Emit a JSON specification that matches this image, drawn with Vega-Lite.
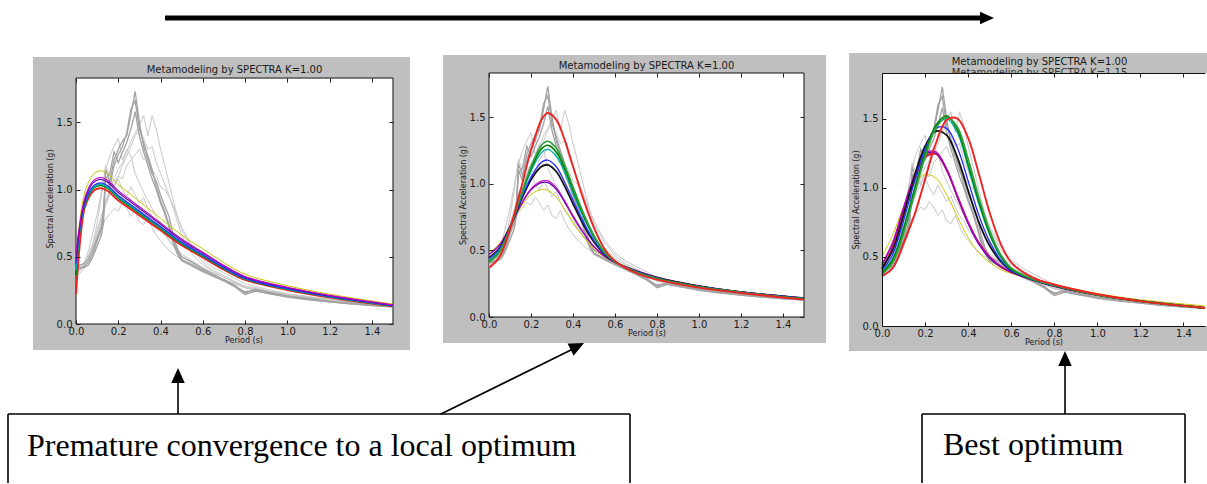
{
"$schema": "https://vega.github.io/schema/vega-lite/v6.json",
"padding": 0,
"background": "white",
"spacing": 78,
"bounds": "flush",
"config": {
  "view": {"stroke": null},
  "axis": {"labelFont": "DejaVu Sans", "labelFontSize": 10, "labelColor": "#1a1a1a", "titleFont": "DejaVu Sans", "titleFontSize": 8, "titleFontWeight": "normal", "titleColor": "#1a1a1a", "tickColor": "#222", "tickWidth": 1, "grid": false, "domainColor": "#111", "labelFlush": false, "labelOverlap": false}
},
"datasets": {
  "canvas": [{"x": 0, "y": 0, "x2": 1207, "y2": 484}],
  "shaft": [{"x": 165, "y": 18, "x2": 982, "y2": 18}],
  "segs": [
    {"x": 8, "y": 414, "x2": 8, "y2": 483}, {"x": 8, "y": 414, "x2": 630, "y2": 414}, {"x": 630, "y": 414, "x2": 630, "y2": 483},
    {"x": 922, "y": 414, "x2": 922, "y2": 483}, {"x": 922, "y": 414, "x2": 1185, "y2": 414}, {"x": 1185, "y": 414, "x2": 1185, "y2": 483},
    {"x": 178, "y": 414, "x2": 178, "y2": 382}, {"x": 1065, "y": 414, "x2": 1065, "y2": 365}, {"x": 441, "y": 414, "x2": 577, "y2": 347}
  ],
  "headsUp": [{"x": 178, "y": 375.5}, {"x": 1065, "y": 358.5}],
  "headDiag": [{"x": 577.3, "y": 346.3}],
  "headRight": [{"x": 987, "y": 18}],
  "labels": [{"x": 27, "y": 456, "label": "Premature convergence to a local optimum"}, {"x": 943, "y": 455, "label": "Best optimum"}],
  "gray": [
{"g":1,"k":"d","t":0,"v":0.42},{"g":1,"k":"d","t":0.02,"v":0.41},{"g":1,"k":"d","t":0.04,"v":0.43},{"g":1,"k":"d","t":0.06,"v":0.46},{"g":1,"k":"d","t":0.08,"v":0.52},{"g":1,"k":"d","t":0.1,"v":0.62},{"g":1,"k":"d","t":0.12,"v":0.70},{"g":1,"k":"d","t":0.13,"v":0.80},{"g":1,"k":"d","t":0.14,"v":1.15},{"g":1,"k":"d","t":0.16,"v":1.06},{"g":1,"k":"d","t":0.18,"v":1.22},{"g":1,"k":"d","t":0.2,"v":1.30},{"g":1,"k":"d","t":0.22,"v":1.36},{"g":1,"k":"d","t":0.24,"v":1.40},{"g":1,"k":"d","t":0.26,"v":1.56},{"g":1,"k":"d","t":0.28,"v":1.73},{"g":1,"k":"d","t":0.3,"v":1.50},{"g":1,"k":"d","t":0.32,"v":1.32},{"g":1,"k":"d","t":0.34,"v":1.22},{"g":1,"k":"d","t":0.36,"v":1.12},{"g":1,"k":"d","t":0.38,"v":1.06},{"g":1,"k":"d","t":0.4,"v":0.96},{"g":1,"k":"d","t":0.42,"v":0.88},{"g":1,"k":"d","t":0.44,"v":0.80},{"g":1,"k":"d","t":0.46,"v":0.66},{"g":1,"k":"d","t":0.48,"v":0.56},{"g":1,"k":"d","t":0.5,"v":0.50},{"g":1,"k":"d","t":0.55,"v":0.46},{"g":1,"k":"d","t":0.6,"v":0.41},{"g":1,"k":"d","t":0.65,"v":0.37},{"g":1,"k":"d","t":0.7,"v":0.33},{"g":1,"k":"d","t":0.75,"v":0.29},{"g":1,"k":"d","t":0.8,"v":0.23},{"g":1,"k":"d","t":0.85,"v":0.26},{"g":1,"k":"d","t":0.9,"v":0.24},{"g":1,"k":"d","t":1.0,"v":0.21},{"g":1,"k":"d","t":1.1,"v":0.19},{"g":1,"k":"d","t":1.2,"v":0.17},{"g":1,"k":"d","t":1.3,"v":0.155},{"g":1,"k":"d","t":1.4,"v":0.14},{"g":1,"k":"d","t":1.5,"v":0.13},
{"g":2,"k":"d","t":0,"v":0.40},{"g":2,"k":"d","t":0.02,"v":0.42},{"g":2,"k":"d","t":0.04,"v":0.42},{"g":2,"k":"d","t":0.06,"v":0.44},{"g":2,"k":"d","t":0.08,"v":0.50},{"g":2,"k":"d","t":0.1,"v":0.58},{"g":2,"k":"d","t":0.12,"v":0.66},{"g":2,"k":"d","t":0.13,"v":0.75},{"g":2,"k":"d","t":0.14,"v":1.10},{"g":2,"k":"d","t":0.16,"v":1.02},{"g":2,"k":"d","t":0.18,"v":1.18},{"g":2,"k":"d","t":0.2,"v":1.26},{"g":2,"k":"d","t":0.22,"v":1.32},{"g":2,"k":"d","t":0.24,"v":1.42},{"g":2,"k":"d","t":0.26,"v":1.60},{"g":2,"k":"d","t":0.28,"v":1.66},{"g":2,"k":"d","t":0.3,"v":1.45},{"g":2,"k":"d","t":0.32,"v":1.35},{"g":2,"k":"d","t":0.34,"v":1.25},{"g":2,"k":"d","t":0.36,"v":1.15},{"g":2,"k":"d","t":0.38,"v":1.02},{"g":2,"k":"d","t":0.4,"v":0.92},{"g":2,"k":"d","t":0.42,"v":0.84},{"g":2,"k":"d","t":0.44,"v":0.74},{"g":2,"k":"d","t":0.46,"v":0.62},{"g":2,"k":"d","t":0.48,"v":0.54},{"g":2,"k":"d","t":0.5,"v":0.48},{"g":2,"k":"d","t":0.55,"v":0.44},{"g":2,"k":"d","t":0.6,"v":0.40},{"g":2,"k":"d","t":0.65,"v":0.36},{"g":2,"k":"d","t":0.7,"v":0.32},{"g":2,"k":"d","t":0.75,"v":0.28},{"g":2,"k":"d","t":0.8,"v":0.24},{"g":2,"k":"d","t":0.85,"v":0.25},{"g":2,"k":"d","t":0.9,"v":0.23},{"g":2,"k":"d","t":1.0,"v":0.205},{"g":2,"k":"d","t":1.1,"v":0.185},{"g":2,"k":"d","t":1.2,"v":0.165},{"g":2,"k":"d","t":1.3,"v":0.15},{"g":2,"k":"d","t":1.4,"v":0.138},{"g":2,"k":"d","t":1.5,"v":0.128},
{"g":3,"k":"d","t":0,"v":0.43},{"g":3,"k":"d","t":0.02,"v":0.44},{"g":3,"k":"d","t":0.04,"v":0.45},{"g":3,"k":"d","t":0.06,"v":0.48},{"g":3,"k":"d","t":0.08,"v":0.55},{"g":3,"k":"d","t":0.1,"v":0.64},{"g":3,"k":"d","t":0.12,"v":0.72},{"g":3,"k":"d","t":0.13,"v":0.85},{"g":3,"k":"d","t":0.14,"v":1.08},{"g":3,"k":"d","t":0.16,"v":1.12},{"g":3,"k":"d","t":0.18,"v":1.28},{"g":3,"k":"d","t":0.2,"v":1.20},{"g":3,"k":"d","t":0.22,"v":1.28},{"g":3,"k":"d","t":0.24,"v":1.35},{"g":3,"k":"d","t":0.26,"v":1.45},{"g":3,"k":"d","t":0.28,"v":1.58},{"g":3,"k":"d","t":0.3,"v":1.40},{"g":3,"k":"d","t":0.32,"v":1.28},{"g":3,"k":"d","t":0.34,"v":1.18},{"g":3,"k":"d","t":0.36,"v":1.08},{"g":3,"k":"d","t":0.38,"v":1.00},{"g":3,"k":"d","t":0.4,"v":0.90},{"g":3,"k":"d","t":0.42,"v":0.82},{"g":3,"k":"d","t":0.44,"v":0.72},{"g":3,"k":"d","t":0.46,"v":0.60},{"g":3,"k":"d","t":0.48,"v":0.52},{"g":3,"k":"d","t":0.5,"v":0.47},{"g":3,"k":"d","t":0.55,"v":0.43},{"g":3,"k":"d","t":0.6,"v":0.39},{"g":3,"k":"d","t":0.65,"v":0.355},{"g":3,"k":"d","t":0.7,"v":0.32},{"g":3,"k":"d","t":0.75,"v":0.28},{"g":3,"k":"d","t":0.8,"v":0.22},{"g":3,"k":"d","t":0.85,"v":0.245},{"g":3,"k":"d","t":0.9,"v":0.23},{"g":3,"k":"d","t":1.0,"v":0.20},{"g":3,"k":"d","t":1.1,"v":0.18},{"g":3,"k":"d","t":1.2,"v":0.165},{"g":3,"k":"d","t":1.3,"v":0.15},{"g":3,"k":"d","t":1.4,"v":0.137},{"g":3,"k":"d","t":1.5,"v":0.127},
{"g":4,"k":"l","t":0,"v":0.38},{"g":4,"k":"l","t":0.02,"v":0.40},{"g":4,"k":"l","t":0.04,"v":0.44},{"g":4,"k":"l","t":0.06,"v":0.50},{"g":4,"k":"l","t":0.08,"v":0.58},{"g":4,"k":"l","t":0.1,"v":0.68},{"g":4,"k":"l","t":0.12,"v":0.80},{"g":4,"k":"l","t":0.14,"v":0.92},{"g":4,"k":"l","t":0.16,"v":1.00},{"g":4,"k":"l","t":0.18,"v":1.08},{"g":4,"k":"l","t":0.2,"v":1.15},{"g":4,"k":"l","t":0.22,"v":1.20},{"g":4,"k":"l","t":0.24,"v":1.28},{"g":4,"k":"l","t":0.26,"v":1.36},{"g":4,"k":"l","t":0.28,"v":1.42},{"g":4,"k":"l","t":0.3,"v":1.48},{"g":4,"k":"l","t":0.32,"v":1.55},{"g":4,"k":"l","t":0.34,"v":1.40},{"g":4,"k":"l","t":0.36,"v":1.55},{"g":4,"k":"l","t":0.38,"v":1.45},{"g":4,"k":"l","t":0.4,"v":1.30},{"g":4,"k":"l","t":0.42,"v":1.18},{"g":4,"k":"l","t":0.44,"v":1.05},{"g":4,"k":"l","t":0.46,"v":0.92},{"g":4,"k":"l","t":0.48,"v":0.80},{"g":4,"k":"l","t":0.5,"v":0.70},{"g":4,"k":"l","t":0.55,"v":0.56},{"g":4,"k":"l","t":0.6,"v":0.46},{"g":4,"k":"l","t":0.65,"v":0.40},{"g":4,"k":"l","t":0.7,"v":0.36},{"g":4,"k":"l","t":0.75,"v":0.32},{"g":4,"k":"l","t":0.8,"v":0.28},{"g":4,"k":"l","t":0.85,"v":0.27},{"g":4,"k":"l","t":0.9,"v":0.25},{"g":4,"k":"l","t":1.0,"v":0.22},{"g":4,"k":"l","t":1.1,"v":0.20},{"g":4,"k":"l","t":1.2,"v":0.18},{"g":4,"k":"l","t":1.3,"v":0.16},{"g":4,"k":"l","t":1.4,"v":0.145},{"g":4,"k":"l","t":1.5,"v":0.135},
{"g":5,"k":"l","t":0,"v":0.40},{"g":5,"k":"l","t":0.02,"v":0.42},{"g":5,"k":"l","t":0.04,"v":0.46},{"g":5,"k":"l","t":0.06,"v":0.55},{"g":5,"k":"l","t":0.08,"v":0.68},{"g":5,"k":"l","t":0.1,"v":0.82},{"g":5,"k":"l","t":0.12,"v":0.98},{"g":5,"k":"l","t":0.14,"v":1.15},{"g":5,"k":"l","t":0.16,"v":1.25},{"g":5,"k":"l","t":0.18,"v":1.32},{"g":5,"k":"l","t":0.2,"v":1.38},{"g":5,"k":"l","t":0.22,"v":1.22},{"g":5,"k":"l","t":0.24,"v":1.30},{"g":5,"k":"l","t":0.26,"v":1.25},{"g":5,"k":"l","t":0.28,"v":1.12},{"g":5,"k":"l","t":0.3,"v":1.05},{"g":5,"k":"l","t":0.32,"v":0.98},{"g":5,"k":"l","t":0.34,"v":0.92},{"g":5,"k":"l","t":0.36,"v":0.86},{"g":5,"k":"l","t":0.38,"v":0.80},{"g":5,"k":"l","t":0.4,"v":0.74},{"g":5,"k":"l","t":0.42,"v":0.68},{"g":5,"k":"l","t":0.44,"v":0.63},{"g":5,"k":"l","t":0.46,"v":0.58},{"g":5,"k":"l","t":0.48,"v":0.54},{"g":5,"k":"l","t":0.5,"v":0.50},{"g":5,"k":"l","t":0.55,"v":0.45},{"g":5,"k":"l","t":0.6,"v":0.40},{"g":5,"k":"l","t":0.65,"v":0.37},{"g":5,"k":"l","t":0.7,"v":0.33},{"g":5,"k":"l","t":0.75,"v":0.30},{"g":5,"k":"l","t":0.8,"v":0.27},{"g":5,"k":"l","t":0.85,"v":0.255},{"g":5,"k":"l","t":0.9,"v":0.24},{"g":5,"k":"l","t":1.0,"v":0.215},{"g":5,"k":"l","t":1.1,"v":0.195},{"g":5,"k":"l","t":1.2,"v":0.175},{"g":5,"k":"l","t":1.3,"v":0.16},{"g":5,"k":"l","t":1.4,"v":0.145},{"g":5,"k":"l","t":1.5,"v":0.135},
{"g":6,"k":"l","t":0,"v":0.36},{"g":6,"k":"l","t":0.02,"v":0.38},{"g":6,"k":"l","t":0.04,"v":0.42},{"g":6,"k":"l","t":0.06,"v":0.48},{"g":6,"k":"l","t":0.08,"v":0.56},{"g":6,"k":"l","t":0.1,"v":0.64},{"g":6,"k":"l","t":0.12,"v":0.72},{"g":6,"k":"l","t":0.14,"v":0.78},{"g":6,"k":"l","t":0.16,"v":0.82},{"g":6,"k":"l","t":0.18,"v":0.86},{"g":6,"k":"l","t":0.2,"v":0.84},{"g":6,"k":"l","t":0.22,"v":0.90},{"g":6,"k":"l","t":0.24,"v":0.86},{"g":6,"k":"l","t":0.26,"v":0.80},{"g":6,"k":"l","t":0.28,"v":0.84},{"g":6,"k":"l","t":0.3,"v":0.76},{"g":6,"k":"l","t":0.32,"v":0.74},{"g":6,"k":"l","t":0.34,"v":0.80},{"g":6,"k":"l","t":0.36,"v":0.72},{"g":6,"k":"l","t":0.38,"v":0.66},{"g":6,"k":"l","t":0.4,"v":0.62},{"g":6,"k":"l","t":0.42,"v":0.58},{"g":6,"k":"l","t":0.44,"v":0.55},{"g":6,"k":"l","t":0.46,"v":0.52},{"g":6,"k":"l","t":0.48,"v":0.50},{"g":6,"k":"l","t":0.5,"v":0.48},{"g":6,"k":"l","t":0.55,"v":0.44},{"g":6,"k":"l","t":0.6,"v":0.40},{"g":6,"k":"l","t":0.65,"v":0.36},{"g":6,"k":"l","t":0.7,"v":0.33},{"g":6,"k":"l","t":0.75,"v":0.30},{"g":6,"k":"l","t":0.8,"v":0.27},{"g":6,"k":"l","t":0.85,"v":0.25},{"g":6,"k":"l","t":0.9,"v":0.235},{"g":6,"k":"l","t":1.0,"v":0.21},{"g":6,"k":"l","t":1.1,"v":0.19},{"g":6,"k":"l","t":1.2,"v":0.17},{"g":6,"k":"l","t":1.3,"v":0.155},{"g":6,"k":"l","t":1.4,"v":0.14},{"g":6,"k":"l","t":1.5,"v":0.13},
{"g":7,"k":"l","t":0,"v":0.42},{"g":7,"k":"l","t":0.02,"v":0.43},{"g":7,"k":"l","t":0.04,"v":0.46},{"g":7,"k":"l","t":0.06,"v":0.52},{"g":7,"k":"l","t":0.08,"v":0.60},{"g":7,"k":"l","t":0.1,"v":0.70},{"g":7,"k":"l","t":0.12,"v":0.80},{"g":7,"k":"l","t":0.14,"v":0.90},{"g":7,"k":"l","t":0.16,"v":0.98},{"g":7,"k":"l","t":0.18,"v":1.05},{"g":7,"k":"l","t":0.2,"v":1.10},{"g":7,"k":"l","t":0.22,"v":1.08},{"g":7,"k":"l","t":0.24,"v":1.18},{"g":7,"k":"l","t":0.26,"v":1.22},{"g":7,"k":"l","t":0.28,"v":1.26},{"g":7,"k":"l","t":0.3,"v":1.30},{"g":7,"k":"l","t":0.32,"v":1.22},{"g":7,"k":"l","t":0.34,"v":1.25},{"g":7,"k":"l","t":0.36,"v":1.15},{"g":7,"k":"l","t":0.38,"v":1.10},{"g":7,"k":"l","t":0.4,"v":1.02},{"g":7,"k":"l","t":0.42,"v":1.00},{"g":7,"k":"l","t":0.44,"v":0.95},{"g":7,"k":"l","t":0.46,"v":0.88},{"g":7,"k":"l","t":0.48,"v":0.80},{"g":7,"k":"l","t":0.5,"v":0.72},{"g":7,"k":"l","t":0.55,"v":0.58},{"g":7,"k":"l","t":0.6,"v":0.48},{"g":7,"k":"l","t":0.65,"v":0.42},{"g":7,"k":"l","t":0.7,"v":0.38},{"g":7,"k":"l","t":0.75,"v":0.34},{"g":7,"k":"l","t":0.8,"v":0.30},{"g":7,"k":"l","t":0.85,"v":0.28},{"g":7,"k":"l","t":0.9,"v":0.26},{"g":7,"k":"l","t":1.0,"v":0.225},{"g":7,"k":"l","t":1.1,"v":0.205},{"g":7,"k":"l","t":1.2,"v":0.185},{"g":7,"k":"l","t":1.3,"v":0.165},{"g":7,"k":"l","t":1.4,"v":0.15},{"g":7,"k":"l","t":1.5,"v":0.14},
{"g":8,"k":"l","t":0,"v":0.39},{"g":8,"k":"l","t":0.02,"v":0.41},{"g":8,"k":"l","t":0.04,"v":0.44},{"g":8,"k":"l","t":0.06,"v":0.50},{"g":8,"k":"l","t":0.08,"v":0.60},{"g":8,"k":"l","t":0.1,"v":0.75},{"g":8,"k":"l","t":0.12,"v":0.95},{"g":8,"k":"l","t":0.14,"v":1.18},{"g":8,"k":"l","t":0.16,"v":1.10},{"g":8,"k":"l","t":0.18,"v":1.02},{"g":8,"k":"l","t":0.2,"v":1.08},{"g":8,"k":"l","t":0.22,"v":1.00},{"g":8,"k":"l","t":0.24,"v":0.95},{"g":8,"k":"l","t":0.26,"v":1.02},{"g":8,"k":"l","t":0.28,"v":0.96},{"g":8,"k":"l","t":0.3,"v":0.90},{"g":8,"k":"l","t":0.32,"v":0.94},{"g":8,"k":"l","t":0.34,"v":0.86},{"g":8,"k":"l","t":0.36,"v":0.80},{"g":8,"k":"l","t":0.38,"v":0.76},{"g":8,"k":"l","t":0.4,"v":0.70},{"g":8,"k":"l","t":0.42,"v":0.66},{"g":8,"k":"l","t":0.44,"v":0.62},{"g":8,"k":"l","t":0.46,"v":0.58},{"g":8,"k":"l","t":0.48,"v":0.55},{"g":8,"k":"l","t":0.5,"v":0.52},{"g":8,"k":"l","t":0.55,"v":0.47},{"g":8,"k":"l","t":0.6,"v":0.42},{"g":8,"k":"l","t":0.65,"v":0.38},{"g":8,"k":"l","t":0.7,"v":0.35},{"g":8,"k":"l","t":0.75,"v":0.31},{"g":8,"k":"l","t":0.8,"v":0.28},{"g":8,"k":"l","t":0.85,"v":0.26},{"g":8,"k":"l","t":0.9,"v":0.245},{"g":8,"k":"l","t":1.0,"v":0.22},{"g":8,"k":"l","t":1.1,"v":0.20},{"g":8,"k":"l","t":1.2,"v":0.18},{"g":8,"k":"l","t":1.3,"v":0.16},{"g":8,"k":"l","t":1.4,"v":0.147},{"g":8,"k":"l","t":1.5,"v":0.137},
{"g":9,"k":"l","t":0,"v":0.41},{"g":9,"k":"l","t":0.02,"v":0.42},{"g":9,"k":"l","t":0.04,"v":0.45},{"g":9,"k":"l","t":0.06,"v":0.50},{"g":9,"k":"l","t":0.08,"v":0.58},{"g":9,"k":"l","t":0.1,"v":0.66},{"g":9,"k":"l","t":0.12,"v":0.76},{"g":9,"k":"l","t":0.14,"v":0.88},{"g":9,"k":"l","t":0.16,"v":0.96},{"g":9,"k":"l","t":0.18,"v":1.02},{"g":9,"k":"l","t":0.2,"v":1.10},{"g":9,"k":"l","t":0.22,"v":1.18},{"g":9,"k":"l","t":0.24,"v":1.25},{"g":9,"k":"l","t":0.26,"v":1.32},{"g":9,"k":"l","t":0.28,"v":1.40},{"g":9,"k":"l","t":0.3,"v":1.45},{"g":9,"k":"l","t":0.32,"v":1.38},{"g":9,"k":"l","t":0.34,"v":1.30},{"g":9,"k":"l","t":0.36,"v":1.32},{"g":9,"k":"l","t":0.38,"v":1.20},{"g":9,"k":"l","t":0.4,"v":1.12},{"g":9,"k":"l","t":0.42,"v":1.04},{"g":9,"k":"l","t":0.44,"v":0.96},{"g":9,"k":"l","t":0.46,"v":0.86},{"g":9,"k":"l","t":0.48,"v":0.76},{"g":9,"k":"l","t":0.5,"v":0.66},{"g":9,"k":"l","t":0.55,"v":0.52},{"g":9,"k":"l","t":0.6,"v":0.44},{"g":9,"k":"l","t":0.65,"v":0.39},{"g":9,"k":"l","t":0.7,"v":0.35},{"g":9,"k":"l","t":0.75,"v":0.31},{"g":9,"k":"l","t":0.8,"v":0.27},{"g":9,"k":"l","t":0.85,"v":0.26},{"g":9,"k":"l","t":0.9,"v":0.245},{"g":9,"k":"l","t":1.0,"v":0.22},{"g":9,"k":"l","t":1.1,"v":0.20},{"g":9,"k":"l","t":1.2,"v":0.18},{"g":9,"k":"l","t":1.3,"v":0.162},{"g":9,"k":"l","t":1.4,"v":0.148},{"g":9,"k":"l","t":1.5,"v":0.138}
  ],
  "c1": [
{"s":"y","t":0,"v":0.50},{"s":"y","t":0.02,"v":0.798},{"s":"y","t":0.04,"v":0.969},{"s":"y","t":0.06,"v":1.060},{"s":"y","t":0.08,"v":1.112},{"s":"y","t":0.1,"v":1.134},{"s":"y","t":0.12,"v":1.14},{"s":"y","t":0.15,"v":1.117},{"s":"y","t":0.2,"v":1.037},{"s":"y","t":0.25,"v":0.975},{"s":"y","t":0.3,"v":0.912},{"s":"y","t":0.4,"v":0.787},{"s":"y","t":0.5,"v":0.661},{"s":"y","t":0.6,"v":0.559},{"s":"y","t":0.7,"v":0.456},{"s":"y","t":0.8,"v":0.371},{"s":"y","t":1.0,"v":0.285},{"s":"y","t":1.2,"v":0.222},{"s":"y","t":1.5,"v":0.148},
{"s":"r","t":0,"v":0.22},{"s":"r","t":0.02,"v":0.626},{"s":"r","t":0.04,"v":0.859},{"s":"r","t":0.06,"v":0.939},{"s":"r","t":0.08,"v":0.985},{"s":"r","t":0.1,"v":1.005},{"s":"r","t":0.12,"v":1.01},{"s":"r","t":0.15,"v":0.99},{"s":"r","t":0.2,"v":0.919},{"s":"r","t":0.25,"v":0.864},{"s":"r","t":0.3,"v":0.808},{"s":"r","t":0.4,"v":0.697},{"s":"r","t":0.5,"v":0.586},{"s":"r","t":0.6,"v":0.495},{"s":"r","t":0.7,"v":0.404},{"s":"r","t":0.8,"v":0.328},{"s":"r","t":1.0,"v":0.253},{"s":"r","t":1.2,"v":0.197},{"s":"r","t":1.5,"v":0.131},
{"s":"g","t":0,"v":0.36},{"s":"g","t":0.02,"v":0.721},{"s":"g","t":0.04,"v":0.876},{"s":"g","t":0.06,"v":0.958},{"s":"g","t":0.08,"v":1.004},{"s":"g","t":0.1,"v":1.025},{"s":"g","t":0.12,"v":1.03},{"s":"g","t":0.15,"v":1.009},{"s":"g","t":0.2,"v":0.937},{"s":"g","t":0.25,"v":0.881},{"s":"g","t":0.3,"v":0.824},{"s":"g","t":0.4,"v":0.711},{"s":"g","t":0.5,"v":0.597},{"s":"g","t":0.6,"v":0.505},{"s":"g","t":0.7,"v":0.412},{"s":"g","t":0.8,"v":0.335},{"s":"g","t":1.0,"v":0.258},{"s":"g","t":1.2,"v":0.201},{"s":"g","t":1.5,"v":0.134},
{"s":"c","t":0,"v":0.40},{"s":"c","t":0.02,"v":0.728},{"s":"c","t":0.04,"v":0.884},{"s":"c","t":0.06,"v":0.967},{"s":"c","t":0.08,"v":1.014},{"s":"c","t":0.1,"v":1.035},{"s":"c","t":0.12,"v":1.04},{"s":"c","t":0.15,"v":1.019},{"s":"c","t":0.2,"v":0.946},{"s":"c","t":0.25,"v":0.889},{"s":"c","t":0.3,"v":0.832},{"s":"c","t":0.4,"v":0.718},{"s":"c","t":0.5,"v":0.603},{"s":"c","t":0.6,"v":0.51},{"s":"c","t":0.7,"v":0.416},{"s":"c","t":0.8,"v":0.338},{"s":"c","t":1.0,"v":0.26},{"s":"c","t":1.2,"v":0.203},{"s":"c","t":1.5,"v":0.135},
{"s":"b","t":0,"v":0.45},{"s":"b","t":0.02,"v":0.735},{"s":"b","t":0.04,"v":0.893},{"s":"b","t":0.06,"v":0.977},{"s":"b","t":0.08,"v":1.024},{"s":"b","t":0.1,"v":1.045},{"s":"b","t":0.12,"v":1.05},{"s":"b","t":0.15,"v":1.029},{"s":"b","t":0.2,"v":0.956},{"s":"b","t":0.25,"v":0.898},{"s":"b","t":0.3,"v":0.84},{"s":"b","t":0.4,"v":0.725},{"s":"b","t":0.5,"v":0.609},{"s":"b","t":0.6,"v":0.515},{"s":"b","t":0.7,"v":0.42},{"s":"b","t":0.8,"v":0.341},{"s":"b","t":1.0,"v":0.263},{"s":"b","t":1.2,"v":0.205},{"s":"b","t":1.5,"v":0.137},
{"s":"p","t":0,"v":0.48},{"s":"p","t":0.02,"v":0.753},{"s":"p","t":0.04,"v":0.914},{"s":"p","t":0.06,"v":1.0},{"s":"p","t":0.08,"v":1.048},{"s":"p","t":0.1,"v":1.07},{"s":"p","t":0.12,"v":1.075},{"s":"p","t":0.15,"v":1.054},{"s":"p","t":0.2,"v":0.978},{"s":"p","t":0.25,"v":0.919},{"s":"p","t":0.3,"v":0.86},{"s":"p","t":0.4,"v":0.742},{"s":"p","t":0.5,"v":0.624},{"s":"p","t":0.6,"v":0.527},{"s":"p","t":0.7,"v":0.43},{"s":"p","t":0.8,"v":0.349},{"s":"p","t":1.0,"v":0.269},{"s":"p","t":1.2,"v":0.21},{"s":"p","t":1.5,"v":0.14},
{"s":"m","t":0,"v":0.53},{"s":"m","t":0.02,"v":0.763},{"s":"m","t":0.04,"v":0.927},{"s":"m","t":0.06,"v":1.014},{"s":"m","t":0.08,"v":1.063},{"s":"m","t":0.1,"v":1.085},{"s":"m","t":0.12,"v":1.09},{"s":"m","t":0.15,"v":1.068},{"s":"m","t":0.2,"v":0.992},{"s":"m","t":0.25,"v":0.932},{"s":"m","t":0.3,"v":0.872},{"s":"m","t":0.4,"v":0.752},{"s":"m","t":0.5,"v":0.632},{"s":"m","t":0.6,"v":0.534},{"s":"m","t":0.7,"v":0.436},{"s":"m","t":0.8,"v":0.354},{"s":"m","t":1.0,"v":0.273},{"s":"m","t":1.2,"v":0.213},{"s":"m","t":1.5,"v":0.142}
  ],
  "c2": [
{"s":"y","t":0,"v":0.48},{"s":"y","t":0.05,"v":0.55},{"s":"y","t":0.1,"v":0.68},{"s":"y","t":0.15,"v":0.82},{"s":"y","t":0.2,"v":0.92},{"s":"y","t":0.25,"v":0.955},{"s":"y","t":0.28,"v":0.95},{"s":"y","t":0.32,"v":0.90},{"s":"y","t":0.36,"v":0.81},{"s":"y","t":0.4,"v":0.71},{"s":"y","t":0.45,"v":0.60},{"s":"y","t":0.5,"v":0.51},{"s":"y","t":0.55,"v":0.45},{"s":"y","t":0.6,"v":0.41},{"s":"y","t":0.7,"v":0.35},{"s":"y","t":0.8,"v":0.30},{"s":"y","t":1.0,"v":0.235},{"s":"y","t":1.2,"v":0.19},{"s":"y","t":1.5,"v":0.145},
{"s":"p","t":0,"v":0.469},{"s":"p","t":0.05,"v":0.54},{"s":"p","t":0.1,"v":0.678},{"s":"p","t":0.15,"v":0.833},{"s":"p","t":0.2,"v":0.953},{"s":"p","t":0.25,"v":1.008},{"s":"p","t":0.28,"v":1.008},{"s":"p","t":0.32,"v":0.958},{"s":"p","t":0.36,"v":0.862},{"s":"p","t":0.4,"v":0.752},{"s":"p","t":0.45,"v":0.628},{"s":"p","t":0.5,"v":0.526},{"s":"p","t":0.55,"v":0.456},{"s":"p","t":0.6,"v":0.411},{"s":"p","t":0.7,"v":0.348},{"s":"p","t":0.8,"v":0.298},{"s":"p","t":1.0,"v":0.234},{"s":"p","t":1.2,"v":0.189},{"s":"p","t":1.5,"v":0.144},
{"s":"m","t":0,"v":0.467},{"s":"m","t":0.05,"v":0.538},{"s":"m","t":0.1,"v":0.678},{"s":"m","t":0.15,"v":0.836},{"s":"m","t":0.2,"v":0.96},{"s":"m","t":0.25,"v":1.019},{"s":"m","t":0.28,"v":1.021},{"s":"m","t":0.32,"v":0.971},{"s":"m","t":0.36,"v":0.873},{"s":"m","t":0.4,"v":0.761},{"s":"m","t":0.45,"v":0.634},{"s":"m","t":0.5,"v":0.53},{"s":"m","t":0.55,"v":0.457},{"s":"m","t":0.6,"v":0.411},{"s":"m","t":0.7,"v":0.348},{"s":"m","t":0.8,"v":0.298},{"s":"m","t":1.0,"v":0.233},{"s":"m","t":1.2,"v":0.189},{"s":"m","t":1.5,"v":0.143},
{"s":"k","t":0,"v":0.444},{"s":"k","t":0.05,"v":0.517},{"s":"k","t":0.1,"v":0.673},{"s":"k","t":0.15,"v":0.863},{"s":"k","t":0.2,"v":1.029},{"s":"k","t":0.25,"v":1.128},{"s":"k","t":0.28,"v":1.141},{"s":"k","t":0.32,"v":1.091},{"s":"k","t":0.36,"v":0.982},{"s":"k","t":0.4,"v":0.849},{"s":"k","t":0.45,"v":0.692},{"s":"k","t":0.5,"v":0.563},{"s":"k","t":0.55,"v":0.47},{"s":"k","t":0.6,"v":0.413},{"s":"k","t":0.7,"v":0.343},{"s":"k","t":0.8,"v":0.293},{"s":"k","t":1.0,"v":0.23},{"s":"k","t":1.2,"v":0.187},{"s":"k","t":1.5,"v":0.14},
{"s":"b","t":0,"v":0.437},{"s":"b","t":0.05,"v":0.511},{"s":"b","t":0.1,"v":0.672},{"s":"b","t":0.15,"v":0.871},{"s":"b","t":0.2,"v":1.049},{"s":"b","t":0.25,"v":1.16},{"s":"b","t":0.28,"v":1.177},{"s":"b","t":0.32,"v":1.127},{"s":"b","t":0.36,"v":1.013},{"s":"b","t":0.4,"v":0.874},{"s":"b","t":0.45,"v":0.71},{"s":"b","t":0.5,"v":0.573},{"s":"b","t":0.55,"v":0.474},{"s":"b","t":0.6,"v":0.414},{"s":"b","t":0.7,"v":0.342},{"s":"b","t":0.8,"v":0.292},{"s":"b","t":1.0,"v":0.229},{"s":"b","t":1.2,"v":0.186},{"s":"b","t":1.5,"v":0.139},
{"s":"c","t":0,"v":0.422},{"s":"c","t":0.05,"v":0.497},{"s":"c","t":0.1,"v":0.669},{"s":"c","t":0.15,"v":0.889},{"s":"c","t":0.2,"v":1.095},{"s":"c","t":0.25,"v":1.233},{"s":"c","t":0.28,"v":1.257},{"s":"c","t":0.32,"v":1.207},{"s":"c","t":0.36,"v":1.086},{"s":"c","t":0.4,"v":0.933},{"s":"c","t":0.45,"v":0.748},{"s":"c","t":0.5,"v":0.595},{"s":"c","t":0.55,"v":0.482},{"s":"c","t":0.6,"v":0.415},{"s":"c","t":0.7,"v":0.339},{"s":"c","t":0.8,"v":0.289},{"s":"c","t":1.0,"v":0.227},{"s":"c","t":1.2,"v":0.185},{"s":"c","t":1.5,"v":0.137},
{"s":"g","t":0,"v":0.416},{"s":"g","t":0.05,"v":0.492},{"s":"g","t":0.1,"v":0.668},{"s":"g","t":0.15,"v":0.896},{"s":"g","t":0.2,"v":1.112},{"s":"g","t":0.25,"v":1.261},{"s":"g","t":0.28,"v":1.288},{"s":"g","t":0.32,"v":1.238},{"s":"g","t":0.36,"v":1.113},{"s":"g","t":0.4,"v":0.955},{"s":"g","t":0.45,"v":0.763},{"s":"g","t":0.5,"v":0.603},{"s":"g","t":0.55,"v":0.485},{"s":"g","t":0.6,"v":0.416},{"s":"g","t":0.7,"v":0.338},{"s":"g","t":0.8,"v":0.288},{"s":"g","t":1.0,"v":0.226},{"s":"g","t":1.2,"v":0.184},{"s":"g","t":1.5,"v":0.136},
{"s":"g2","t":0,"v":0.41},{"s":"g2","t":0.05,"v":0.487},{"s":"g2","t":0.1,"v":0.667},{"s":"g2","t":0.15,"v":0.903},{"s":"g2","t":0.2,"v":1.13},{"s":"g2","t":0.25,"v":1.288},{"s":"g2","t":0.28,"v":1.318},{"s":"g2","t":0.32,"v":1.268},{"s":"g2","t":0.36,"v":1.14},{"s":"g2","t":0.4,"v":0.977},{"s":"g2","t":0.45,"v":0.778},{"s":"g2","t":0.5,"v":0.612},{"s":"g2","t":0.55,"v":0.488},{"s":"g2","t":0.6,"v":0.416},{"s":"g2","t":0.7,"v":0.337},{"s":"g2","t":0.8,"v":0.287},{"s":"g2","t":1.0,"v":0.225},{"s":"g2","t":1.2,"v":0.184},{"s":"g2","t":1.5,"v":0.135},
{"s":"r","t":0,"v":0.37},{"s":"r","t":0.05,"v":0.45},{"s":"r","t":0.1,"v":0.66},{"s":"r","t":0.15,"v":0.95},{"s":"r","t":0.2,"v":1.25},{"s":"r","t":0.25,"v":1.48},{"s":"r","t":0.28,"v":1.53},{"s":"r","t":0.32,"v":1.48},{"s":"r","t":0.36,"v":1.33},{"s":"r","t":0.4,"v":1.13},{"s":"r","t":0.45,"v":0.88},{"s":"r","t":0.5,"v":0.67},{"s":"r","t":0.55,"v":0.51},{"s":"r","t":0.6,"v":0.42},{"s":"r","t":0.7,"v":0.33},{"s":"r","t":0.8,"v":0.28},{"s":"r","t":1.0,"v":0.22},{"s":"r","t":1.2,"v":0.18},{"s":"r","t":1.5,"v":0.13}
  ],
  "c3": [
{"s":"y","t":0,"v":0.50},{"s":"y","t":0.05,"v":0.66},{"s":"y","t":0.1,"v":0.86},{"s":"y","t":0.15,"v":1.02},{"s":"y","t":0.2,"v":1.095},{"s":"y","t":0.25,"v":1.07},{"s":"y","t":0.3,"v":0.95},{"s":"y","t":0.35,"v":0.79},{"s":"y","t":0.4,"v":0.64},{"s":"y","t":0.45,"v":0.53},{"s":"y","t":0.5,"v":0.46},{"s":"y","t":0.55,"v":0.41},{"s":"y","t":0.6,"v":0.38},{"s":"y","t":0.7,"v":0.34},{"s":"y","t":0.8,"v":0.30},{"s":"y","t":1.0,"v":0.235},{"s":"y","t":1.2,"v":0.19},{"s":"y","t":1.5,"v":0.145},
{"s":"r2","t":0,"v":0.41},{"s":"r2","t":0.05,"v":0.57},{"s":"r2","t":0.1,"v":0.82},{"s":"r2","t":0.15,"v":1.05},{"s":"r2","t":0.2,"v":1.22},{"s":"r2","t":0.25,"v":1.245},{"s":"r2","t":0.3,"v":1.13},{"s":"r2","t":0.35,"v":0.94},{"s":"r2","t":0.4,"v":0.75},{"s":"r2","t":0.45,"v":0.60},{"s":"r2","t":0.5,"v":0.50},{"s":"r2","t":0.55,"v":0.43},{"s":"r2","t":0.6,"v":0.39},{"s":"r2","t":0.7,"v":0.335},{"s":"r2","t":0.8,"v":0.29},{"s":"r2","t":1.0,"v":0.226},{"s":"r2","t":1.2,"v":0.181},{"s":"r2","t":1.5,"v":0.131},
{"s":"p","t":0,"v":0.44},{"s":"p","t":0.05,"v":0.60},{"s":"p","t":0.1,"v":0.85},{"s":"p","t":0.15,"v":1.08},{"s":"p","t":0.2,"v":1.24},{"s":"p","t":0.25,"v":1.25},{"s":"p","t":0.3,"v":1.13},{"s":"p","t":0.35,"v":0.93},{"s":"p","t":0.4,"v":0.74},{"s":"p","t":0.45,"v":0.59},{"s":"p","t":0.5,"v":0.49},{"s":"p","t":0.55,"v":0.43},{"s":"p","t":0.6,"v":0.39},{"s":"p","t":0.7,"v":0.335},{"s":"p","t":0.8,"v":0.29},{"s":"p","t":1.0,"v":0.225},{"s":"p","t":1.2,"v":0.18},{"s":"p","t":1.5,"v":0.13},
{"s":"m","t":0,"v":0.45},{"s":"m","t":0.05,"v":0.61},{"s":"m","t":0.1,"v":0.86},{"s":"m","t":0.15,"v":1.09},{"s":"m","t":0.2,"v":1.25},{"s":"m","t":0.25,"v":1.26},{"s":"m","t":0.3,"v":1.14},{"s":"m","t":0.35,"v":0.94},{"s":"m","t":0.4,"v":0.75},{"s":"m","t":0.45,"v":0.60},{"s":"m","t":0.5,"v":0.50},{"s":"m","t":0.55,"v":0.435},{"s":"m","t":0.6,"v":0.39},{"s":"m","t":0.7,"v":0.335},{"s":"m","t":0.8,"v":0.29},{"s":"m","t":1.0,"v":0.225},{"s":"m","t":1.2,"v":0.18},{"s":"m","t":1.5,"v":0.13},
{"s":"k","t":0,"v":0.42},{"s":"k","t":0.05,"v":0.55},{"s":"k","t":0.1,"v":0.80},{"s":"k","t":0.15,"v":1.08},{"s":"k","t":0.2,"v":1.30},{"s":"k","t":0.25,"v":1.41},{"s":"k","t":0.3,"v":1.38},{"s":"k","t":0.35,"v":1.22},{"s":"k","t":0.4,"v":0.98},{"s":"k","t":0.45,"v":0.75},{"s":"k","t":0.5,"v":0.58},{"s":"k","t":0.55,"v":0.47},{"s":"k","t":0.6,"v":0.40},{"s":"k","t":0.7,"v":0.335},{"s":"k","t":0.8,"v":0.29},{"s":"k","t":1.0,"v":0.225},{"s":"k","t":1.2,"v":0.18},{"s":"k","t":1.5,"v":0.13},
{"s":"b","t":0,"v":0.40},{"s":"b","t":0.05,"v":0.52},{"s":"b","t":0.1,"v":0.76},{"s":"b","t":0.15,"v":1.04},{"s":"b","t":0.2,"v":1.28},{"s":"b","t":0.25,"v":1.43},{"s":"b","t":0.3,"v":1.43},{"s":"b","t":0.35,"v":1.29},{"s":"b","t":0.4,"v":1.05},{"s":"b","t":0.45,"v":0.80},{"s":"b","t":0.5,"v":0.61},{"s":"b","t":0.55,"v":0.48},{"s":"b","t":0.6,"v":0.40},{"s":"b","t":0.7,"v":0.335},{"s":"b","t":0.8,"v":0.29},{"s":"b","t":1.0,"v":0.225},{"s":"b","t":1.2,"v":0.18},{"s":"b","t":1.5,"v":0.13},
{"s":"c","t":0,"v":0.39},{"s":"c","t":0.05,"v":0.49},{"s":"c","t":0.1,"v":0.71},{"s":"c","t":0.15,"v":0.99},{"s":"c","t":0.2,"v":1.25},{"s":"c","t":0.25,"v":1.44},{"s":"c","t":0.3,"v":1.50},{"s":"c","t":0.35,"v":1.40},{"s":"c","t":0.4,"v":1.15},{"s":"c","t":0.45,"v":0.88},{"s":"c","t":0.5,"v":0.66},{"s":"c","t":0.55,"v":0.50},{"s":"c","t":0.6,"v":0.41},{"s":"c","t":0.7,"v":0.337},{"s":"c","t":0.8,"v":0.292},{"s":"c","t":1.0,"v":0.226},{"s":"c","t":1.2,"v":0.181},{"s":"c","t":1.5,"v":0.131},
{"s":"g","t":0,"v":0.38},{"s":"g","t":0.05,"v":0.48},{"s":"g","t":0.1,"v":0.70},{"s":"g","t":0.15,"v":0.98},{"s":"g","t":0.2,"v":1.25},{"s":"g","t":0.25,"v":1.45},{"s":"g","t":0.3,"v":1.52},{"s":"g","t":0.35,"v":1.42},{"s":"g","t":0.4,"v":1.17},{"s":"g","t":0.45,"v":0.90},{"s":"g","t":0.5,"v":0.67},{"s":"g","t":0.55,"v":0.51},{"s":"g","t":0.6,"v":0.41},{"s":"g","t":0.7,"v":0.34},{"s":"g","t":0.8,"v":0.295},{"s":"g","t":1.0,"v":0.225},{"s":"g","t":1.2,"v":0.18},{"s":"g","t":1.5,"v":0.13},
{"s":"g2","t":0,"v":0.37},{"s":"g2","t":0.05,"v":0.46},{"s":"g2","t":0.1,"v":0.67},{"s":"g2","t":0.15,"v":0.95},{"s":"g2","t":0.2,"v":1.22},{"s":"g2","t":0.25,"v":1.43},{"s":"g2","t":0.3,"v":1.51},{"s":"g2","t":0.35,"v":1.44},{"s":"g2","t":0.4,"v":1.21},{"s":"g2","t":0.45,"v":0.93},{"s":"g2","t":0.5,"v":0.69},{"s":"g2","t":0.55,"v":0.52},{"s":"g2","t":0.6,"v":0.42},{"s":"g2","t":0.7,"v":0.34},{"s":"g2","t":0.8,"v":0.295},{"s":"g2","t":1.0,"v":0.225},{"s":"g2","t":1.2,"v":0.18},{"s":"g2","t":1.5,"v":0.13},
{"s":"r","t":0,"v":0.36},{"s":"r","t":0.05,"v":0.42},{"s":"r","t":0.1,"v":0.60},{"s":"r","t":0.15,"v":0.80},{"s":"r","t":0.2,"v":1.06},{"s":"r","t":0.25,"v":1.32},{"s":"r","t":0.3,"v":1.49},{"s":"r","t":0.35,"v":1.50},{"s":"r","t":0.4,"v":1.36},{"s":"r","t":0.45,"v":1.10},{"s":"r","t":0.5,"v":0.82},{"s":"r","t":0.55,"v":0.60},{"s":"r","t":0.6,"v":0.46},{"s":"r","t":0.7,"v":0.35},{"s":"r","t":0.8,"v":0.30},{"s":"r","t":1.0,"v":0.23},{"s":"r","t":1.2,"v":0.18},{"s":"r","t":1.5,"v":0.13}
  ]
},
"hconcat": [
  {
    "width": 335, "height": 251,
    "title": {"text": "Metamodeling by SPECTRA K=1.00", "frame": "group", "anchor": "middle", "baseline": "middle", "offset": -80.4, "dx": -9, "fontSize": 10, "font": "DejaVu Sans", "fontWeight": "normal", "color": "#1a1a1a"},
    "layer": [
      {
        "layer": [
          {"data": {"name": "canvas"}, "mark": {"type": "rect", "fill": "white", "strokeWidth": 0},
           "encoding": {"x": {"field": "x", "type": "quantitative", "scale": {"domain": [76, 411], "nice": false, "zero": false}, "axis": null}, "x2": {"field": "x2"},
                        "y": {"field": "y", "type": "quantitative", "scale": {"domain": [73, 324], "nice": false, "zero": false, "reverse": true}, "axis": null}, "y2": {"field": "y2"}}},
          {"data": {"name": "shaft"}, "mark": {"type": "rule", "color": "black", "strokeWidth": 5},
           "encoding": {"x": {"field": "x", "type": "quantitative", "axis": null}, "x2": {"field": "x2"}, "y": {"field": "y", "type": "quantitative", "axis": null}, "y2": {"field": "y2"}}},
          {"data": {"name": "segs"}, "mark": {"type": "rule", "color": "black", "strokeWidth": 1.6},
           "encoding": {"x": {"field": "x", "type": "quantitative", "axis": null}, "x2": {"field": "x2"}, "y": {"field": "y", "type": "quantitative", "axis": null}, "y2": {"field": "y2"}}},
          {"data": {"name": "headsUp"}, "mark": {"type": "point", "shape": "M 0 -1 L 0.9 1 L -0.9 1 Z", "size": 225, "filled": true, "color": "black", "opacity": 1, "strokeWidth": 0},
           "encoding": {"x": {"field": "x", "type": "quantitative", "axis": null}, "y": {"field": "y", "type": "quantitative", "axis": null}}},
          {"data": {"name": "headDiag"}, "mark": {"type": "point", "shape": "M 0 -1 L 0.9 1 L -0.9 1 Z", "size": 225, "angle": 63.6, "filled": true, "color": "black", "opacity": 1, "strokeWidth": 0},
           "encoding": {"x": {"field": "x", "type": "quantitative", "axis": null}, "y": {"field": "y", "type": "quantitative", "axis": null}}},
          {"data": {"name": "headRight"}, "mark": {"type": "point", "shape": "M 0 -1 L 0.9 1 L -0.9 1 Z", "size": 196, "angle": 90, "filled": true, "color": "black", "opacity": 1, "strokeWidth": 0},
           "encoding": {"x": {"field": "x", "type": "quantitative", "axis": null}, "y": {"field": "y", "type": "quantitative", "axis": null}}},
          {"data": {"name": "labels"}, "mark": {"type": "text", "font": "Liberation Serif", "fontSize": 32, "align": "left", "baseline": "alphabetic", "color": "black"},
           "encoding": {"x": {"field": "x", "type": "quantitative", "axis": null}, "y": {"field": "y", "type": "quantitative", "axis": null}, "text": {"field": "label"}}}
        ]
      },
      {
        "layer": [
          {"data": {"values": [{}]}, "mark": {"type": "rect", "fill": "#bfbfbf", "strokeWidth": 0},
           "encoding": {"x": {"datum": -0.2035, "type": "quantitative", "scale": {"domain": [0, 1.5852], "nice": false, "zero": false}, "axis": null}, "x2": {"datum": 1.5805},
                        "y": {"datum": -0.1935, "type": "quantitative", "scale": {"domain": [0, 1.8676], "nice": false, "zero": false}, "axis": null}, "y2": {"datum": 1.9866}}},
          {"data": {"values": [{}]}, "mark": {"type": "rect", "fill": "white", "stroke": "#111", "strokeWidth": 1},
           "encoding": {"x": {"datum": 0, "type": "quantitative", "axis": null}, "x2": {"datum": 1.5}, "y": {"datum": 0, "type": "quantitative", "axis": null}, "y2": {"datum": 1.83}}},
          {"data": {"name": "gray"}, "transform": [{"filter": "datum.k == 'l'"}], "mark": {"type": "line", "color": "#c8c8c8", "strokeWidth": 1},
           "encoding": {"x": {"field": "t", "type": "quantitative", "axis": null}, "y": {"field": "v", "type": "quantitative", "axis": null}, "detail": {"field": "g"}}},
          {"data": {"name": "gray"}, "transform": [{"filter": "datum.k == 'd'"}], "mark": {"type": "line", "color": "#a2a2a2", "strokeWidth": 1.3},
           "encoding": {"x": {"field": "t", "type": "quantitative", "axis": null}, "y": {"field": "v", "type": "quantitative", "axis": null}, "detail": {"field": "g"}}},
          {"data": {"name": "c1"}, "mark": {"type": "line", "interpolate": "catmull-rom"},
           "encoding": {
             "x": {"field": "t", "type": "quantitative", "axis": {"orient": "bottom", "zindex": 1, "domain": false, "tickSize": -4, "values": [0, 0.2, 0.4, 0.6, 0.8, 1.0, 1.2, 1.4], "format": ".1f", "title": "Period (s)", "labelPadding": 6, "titlePadding": 0}},
             "y": {"field": "v", "type": "quantitative", "axis": {"orient": "left", "zindex": 1, "domain": false, "tickSize": -4, "values": [0, 0.5, 1.0, 1.5], "format": ".1f", "title": "Spectral Acceleration (g)", "labelPadding": 8, "titlePadding": 2}},
             "color": {"field": "s", "type": "nominal", "legend": null, "scale": {"domain": ["y","m","p","b","c","g","g2","k","r","r2"], "range": ["#c8c800","#c000c0","#5a10a8","#2a2aff","#00b0b0","#008000","#30a040","#111111","#ee2222","#dc143c"]}},
             "strokeWidth": {"field": "s", "type": "nominal", "legend": null, "scale": {"domain": ["y","m","p","b","c","g","g2","k","r","r2"], "range": [1, 2, 2, 1, 1, 1.1, 1.1, 1, 1, 1]}}
           }},
          {"data": {"values": [{}]}, "mark": {"type": "point", "opacity": 0},
           "encoding": {"x": {"datum": 0, "type": "quantitative", "axis": {"orient": "top", "zindex": 1, "domain": false, "tickSize": -4, "values": [0, 0.2, 0.4, 0.6, 0.8, 1.0, 1.2, 1.4], "labels": false, "title": null, "offset": -5}},
                        "y": {"datum": 0, "type": "quantitative", "axis": {"orient": "right", "zindex": 1, "domain": false, "tickSize": -4, "values": [0, 0.5, 1.0, 1.5], "labels": false, "title": null, "offset": -18}}}}
        ],
        "resolve": {"axis": {"x": "independent", "y": "independent"}}
      }
    ],
    "resolve": {"scale": {"x": "independent", "y": "independent"}}
  },
  {
    "width": 315, "height": 244,
    "title": {"text": "Metamodeling by SPECTRA K=1.00", "frame": "group", "anchor": "middle", "baseline": "middle", "offset": -21.4, "fontSize": 10, "font": "DejaVu Sans", "fontWeight": "normal", "color": "#1a1a1a"},
    "layer": [
      {"data": {"values": [{}]}, "mark": {"type": "rect", "fill": "#bfbfbf", "strokeWidth": 0},
       "encoding": {"x": {"datum": -0.219, "type": "quantitative", "scale": {"domain": [0, 1.5], "nice": false, "zero": false}, "axis": null}, "x2": {"datum": 1.605},
                    "y": {"datum": -0.195, "type": "quantitative", "scale": {"domain": [0, 1.83], "nice": false, "zero": false}, "axis": null}, "y2": {"datum": 1.965}}},
      {"data": {"values": [{}]}, "mark": {"type": "rect", "fill": "white", "stroke": "#111", "strokeWidth": 1},
       "encoding": {"x": {"datum": 0, "type": "quantitative", "axis": null}, "x2": {"datum": 1.5}, "y": {"datum": 0, "type": "quantitative", "axis": null}, "y2": {"datum": 1.83}}},
      {"data": {"name": "gray"}, "transform": [{"filter": "datum.k == 'l'"}], "mark": {"type": "line", "color": "#c8c8c8", "strokeWidth": 1},
       "encoding": {"x": {"field": "t", "type": "quantitative", "axis": null}, "y": {"field": "v", "type": "quantitative", "axis": null}, "detail": {"field": "g"}}},
      {"data": {"name": "gray"}, "transform": [{"filter": "datum.k == 'd'"}], "mark": {"type": "line", "color": "#a2a2a2", "strokeWidth": 1.3},
       "encoding": {"x": {"field": "t", "type": "quantitative", "axis": null}, "y": {"field": "v", "type": "quantitative", "axis": null}, "detail": {"field": "g"}}},
      {"data": {"name": "c2"}, "mark": {"type": "line", "interpolate": "catmull-rom"},
       "encoding": {
         "x": {"field": "t", "type": "quantitative", "axis": {"orient": "bottom", "zindex": 1, "domain": false, "tickSize": -4, "values": [0, 0.2, 0.4, 0.6, 0.8, 1.0, 1.2, 1.4], "format": ".1f", "title": "Period (s)", "labelPadding": 6, "titlePadding": 0}},
         "y": {"field": "v", "type": "quantitative", "axis": {"orient": "left", "zindex": 1, "domain": false, "tickSize": -4, "values": [0, 0.5, 1.0, 1.5], "format": ".1f", "title": "Spectral Acceleration (g)", "labelPadding": 8, "titlePadding": 2}},
         "color": {"field": "s", "type": "nominal", "legend": null, "scale": {"domain": ["y","m","p","b","c","g","g2","k","r","r2"], "range": ["#c8c800","#c000c0","#8a10d0","#3a3aff","#00b8b8","#108010","#40a050","#111111","#ee2222","#dc143c"]}},
         "strokeWidth": {"field": "s", "type": "nominal", "legend": null, "scale": {"domain": ["y","m","p","b","c","g","g2","k","r","r2"], "range": [1, 2, 2, 1, 1, 1, 1, 1, 1, 1]}}
       }},
      {"data": {"values": [{}]}, "mark": {"type": "point", "opacity": 0},
       "encoding": {"x": {"datum": 0, "type": "quantitative", "axis": {"orient": "top", "zindex": 1, "domain": false, "tickSize": -4, "values": [0, 0.2, 0.4, 0.6, 0.8, 1.0, 1.2, 1.4], "labels": false, "title": null}},
                    "y": {"datum": 0, "type": "quantitative", "axis": {"orient": "right", "zindex": 1, "domain": false, "tickSize": -4, "values": [0, 0.5, 1.0, 1.5], "labels": false, "title": null}}}}
    ],
    "resolve": {"axis": {"x": "independent", "y": "independent"}}
  },
  {
    "width": 323, "height": 253,
    "title": {"text": "Metamodeling by SPECTRA K=1.00", "frame": "group", "anchor": "middle", "baseline": "middle", "offset": -19.4, "dx": -4, "fontSize": 10, "font": "DejaVu Sans", "fontWeight": "normal", "color": "#1a1a1a"},
    "layer": [
      {"data": {"values": [{}]}, "mark": {"type": "rect", "fill": "#bfbfbf", "strokeWidth": 0},
       "encoding": {"x": {"datum": -0.153, "type": "quantitative", "scale": {"domain": [0, 1.5], "nice": false, "zero": false}, "axis": null}, "x2": {"datum": 1.5093},
                    "y": {"datum": -0.181, "type": "quantitative", "scale": {"domain": [0, 1.83], "nice": false, "zero": false}, "axis": null}, "y2": {"datum": 1.975}}},
      {"data": {"values": [{}]}, "mark": {"type": "text", "text": "Metamodeling by SPECTRA K=1.15", "font": "DejaVu Sans", "fontSize": 10, "color": "#333", "baseline": "middle", "dy": 0, "dx": -4},
       "encoding": {"x": {"datum": 0.75, "type": "quantitative", "axis": null}, "y": {"datum": 1.83, "type": "quantitative", "axis": null}}},
      {"data": {"values": [{}]}, "mark": {"type": "rect", "fill": "white", "strokeWidth": 0},
       "encoding": {"x": {"datum": 0, "type": "quantitative", "axis": null}, "x2": {"datum": 1.5093}, "y": {"datum": 0, "type": "quantitative", "axis": null}, "y2": {"datum": 1.83}}},
      {"data": {"name": "gray"}, "transform": [{"filter": "datum.k == 'l'"}], "mark": {"type": "line", "color": "#c8c8c8", "strokeWidth": 1},
       "encoding": {"x": {"field": "t", "type": "quantitative", "axis": null}, "y": {"field": "v", "type": "quantitative", "axis": null}, "detail": {"field": "g"}}},
      {"data": {"name": "gray"}, "transform": [{"filter": "datum.k == 'd'"}], "mark": {"type": "line", "color": "#a2a2a2", "strokeWidth": 1.3},
       "encoding": {"x": {"field": "t", "type": "quantitative", "axis": null}, "y": {"field": "v", "type": "quantitative", "axis": null}, "detail": {"field": "g"}}},
      {"data": {"name": "c3"}, "mark": {"type": "line", "interpolate": "catmull-rom"},
       "encoding": {
         "x": {"field": "t", "type": "quantitative", "axis": {"orient": "bottom", "zindex": 1, "domain": true, "tickSize": -4, "values": [0, 0.2, 0.4, 0.6, 0.8, 1.0, 1.2, 1.4], "format": ".1f", "title": "Period (s)", "labelPadding": 6, "titlePadding": 0}},
         "y": {"field": "v", "type": "quantitative", "axis": {"orient": "left", "zindex": 1, "domain": true, "tickSize": -4, "values": [0, 0.5, 1.0, 1.5], "format": ".1f", "title": "Spectral Acceleration (g)", "labelPadding": 8, "titlePadding": 2}},
         "color": {"field": "s", "type": "nominal", "legend": null, "scale": {"domain": ["y","m","p","b","c","g","g2","k","r","r2"], "range": ["#c8c800","#c000c0","#8a10d0","#3a3aff","#20a8a0","#108010","#40a050","#111111","#ee2222","#dc143c"]}},
         "strokeWidth": {"field": "s", "type": "nominal", "legend": null, "scale": {"domain": ["y","m","p","b","c","g","g2","k","r","r2"], "range": [1, 2, 2, 1, 1, 1.4, 1.4, 1, 1, 1]}}
       }},
      {"data": {"values": [{}]}, "mark": {"type": "point", "opacity": 0},
       "encoding": {"x": {"datum": 0, "type": "quantitative", "axis": {"orient": "top", "zindex": 1, "domain": true, "tickSize": -4, "values": [0, 0.2, 0.4, 0.6, 0.8, 1.0, 1.2, 1.4], "labels": false, "title": null}},
                    "y": {"datum": 0, "type": "quantitative", "axis": null}}}
    ],
    "resolve": {"axis": {"x": "independent", "y": "independent"}}
  }
]
}
